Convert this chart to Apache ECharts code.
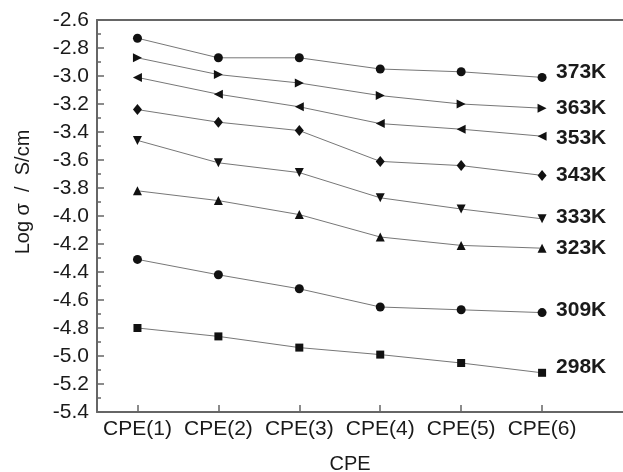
<!DOCTYPE html>
<html>
<head>
<meta charset="utf-8">
<script src="https://cdn.jsdelivr.net/npm/echarts@6/dist/echarts.min.js"></script>
<style>
  html, body { margin: 0; padding: 0; background: #fff; }
  #main { width: 623px; height: 472px; }
</style>
</head>
<body>
<div id="main"></div>
<script>
// samples on the x axis
const categories = ['CPE(1)', 'CPE(2)', 'CPE(3)', 'CPE(4)', 'CPE(5)', 'CPE(6)']
const temps = ['373K', '363K', '353K', '343K', '333K', '323K', '309K', '298K']

// log conductivity per temperature
const k373 = [-2.73, -2.87, -2.87, -2.95, -2.97, -3.01]
const k363 = [-2.87, -2.99, -3.05, -3.14, -3.20, -3.23]
const k353 = [-3.01, -3.13, -3.22, -3.34, -3.38, -3.43]
const k343 = [-3.24, -3.33, -3.39, -3.61, -3.64, -3.71]
const k333 = [-3.46, -3.62, -3.69, -3.87, -3.95, -4.02]
const k323 = [-3.82, -3.89, -3.99, -4.15, -4.21, -4.23]
const k309 = [-4.31, -4.42, -4.52, -4.65, -4.67, -4.69]
const k298 = [-4.80, -4.86, -4.94, -4.99, -5.05, -5.12]
const seriesValues = [k373, k363, k353, k343, k333, k323, k309, k298]

const symbols = [
    { symbol: 'circle', size: 9, rotate: 0 },
    { symbol: 'triangle', size: 9, rotate: -90 },
    { symbol: 'triangle', size: 9, rotate: 90 },
    { symbol: 'diamond', size: [9, 11], rotate: 0 },
    { symbol: 'triangle', size: 9, rotate: 180 },
    { symbol: 'triangle', size: 9, rotate: 0 },
    { symbol: 'circle', size: 9, rotate: 0 },
    { symbol: 'rect', size: 8, rotate: 0 }
]
// small vertical nudges of the end labels
const labelNudge = [-5, 0, 2, 0, -2, 0, -2, -6]

const fontFamily = 'Liberation Sans, Arial, sans-serif'
const axisColor = '#666'
const textColor = '#1a1a1a'

const chart = echarts.init(document.getElementById('main'))

const series = seriesValues.map((vals, i) => ({
    name: temps[i],
    type: 'line',
    data: vals.map((v, j) => [j + 1, v]),
    symbol: symbols[i].symbol,
    symbolSize: symbols[i].size,
    symbolRotate: symbols[i].rotate,
    showAllSymbol: true,
    animation: false,
    lineStyle: { color: '#777', width: 1 },
    itemStyle: { color: '#111' },
    endLabel: {
        show: true,
        formatter: '{a}',
        distance: 14,
        offset: [0, labelNudge[i]],
        fontFamily: fontFamily,
        fontSize: 21,
        fontWeight: 'bold',
        color: textColor
    }
}))

const option = {
    backgroundColor: '#fff',
    animation: false,
    grid: { left: 97, top: 20, right: 0, bottom: 60, outerBoundsMode: 'none', containLabel: false },
    xAxis: [{
        type: 'value',
        min: 0.5,
        max: 7,
        name: 'CPE',
        nameLocation: 'middle',
        nameGap: 42,
        nameTextStyle: { fontFamily: fontFamily, fontSize: 20, color: textColor, padding: [0, 20, 0, 0] },
        splitLine: { show: false },
        axisLine: { lineStyle: { color: axisColor, width: 2 } },
        axisTick: { inside: true, length: 7, customValues: [1, 2, 3, 4, 5, 6], lineStyle: { color: axisColor, width: 1.5 } },
        axisLabel: {
            customValues: [1, 2, 3, 4, 5, 6],
            formatter: v => categories[Math.round(v) - 1] || '',
            margin: 7,
            fontFamily: fontFamily,
            fontSize: 21,
            color: textColor
        }
    }, {
        type: 'value',
        position: 'top',
        min: 0.5,
        max: 7,
        splitLine: { show: false },
        axisLine: { show: true, lineStyle: { color: axisColor, width: 2 } },
        axisTick: { show: false },
        axisLabel: { show: false }
    }],
    yAxis: {
        type: 'value',
        min: -5.4,
        max: -2.6,
        interval: 0.2,
        name: 'Log σ  /  S/cm',
        nameLocation: 'middle',
        nameGap: 64,
        nameTextStyle: { fontFamily: fontFamily, fontSize: 20, color: textColor, padding: [0, 0, 0, 48] },
        splitLine: { show: false },
        axisLine: { show: true, lineStyle: { color: axisColor, width: 2 } },
        axisTick: { inside: true, length: 7, lineStyle: { color: axisColor, width: 1.5 } },
        minorTick: { show: true, splitNumber: 2, length: 4, lineStyle: { color: axisColor, width: 1.5 } },
        axisLabel: {
            formatter: v => v.toFixed(1),
            margin: 8,
            fontFamily: fontFamily,
            fontSize: 21,
            color: textColor
        }
    },
    series: series
}

chart.setOption(option)
</script>
</body>
</html>
